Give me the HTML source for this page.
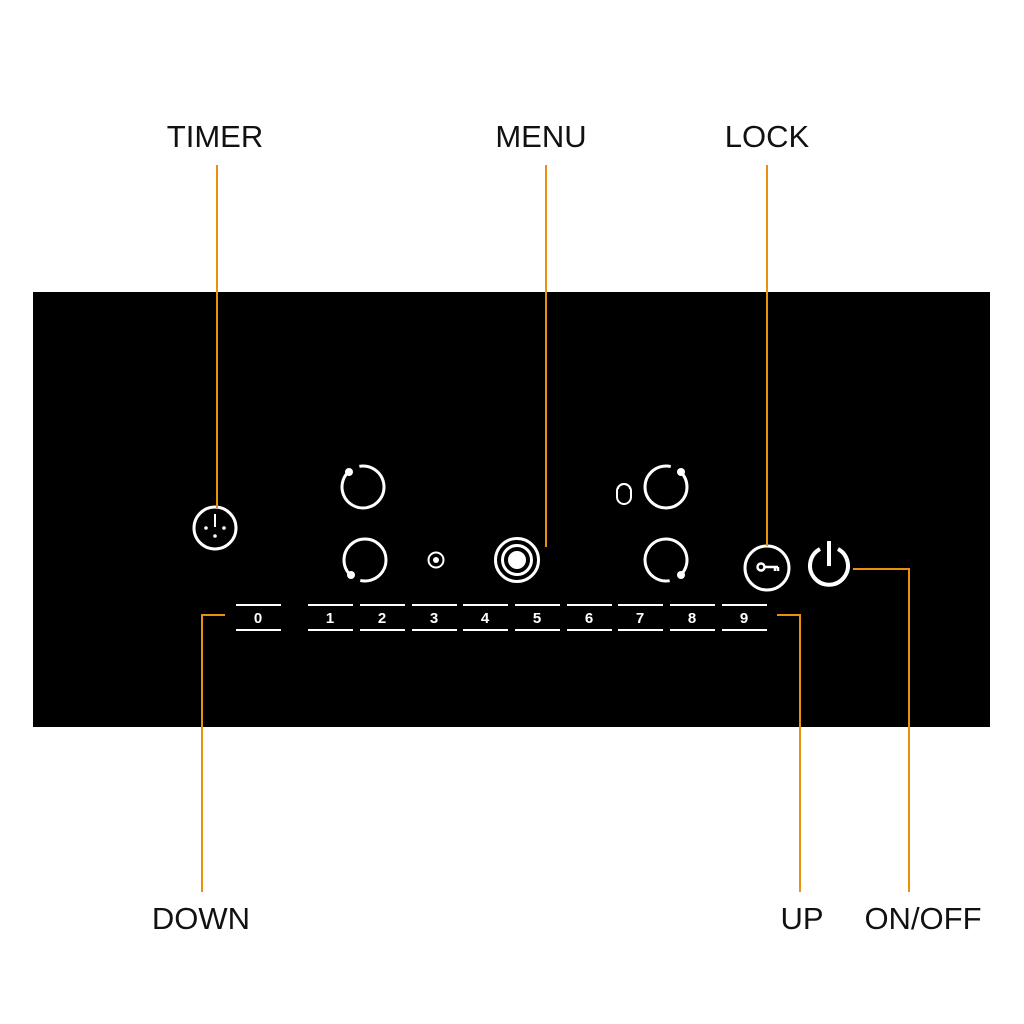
<!DOCTYPE html>
<html><head><meta charset="utf-8"><style>
html,body{margin:0;padding:0;background:#fff;}
svg{display:block;}
text{font-family:"Liberation Sans",sans-serif;}
</style></head><body>
<svg width="1024" height="1024" viewBox="0 0 1024 1024" xmlns="http://www.w3.org/2000/svg">
<rect x="0" y="0" width="1024" height="1024" fill="#fff"/>
<rect x="33" y="292" width="957" height="435" fill="#000"/>
<g fill="none" stroke="#fff" stroke-width="3">
  <circle cx="215" cy="528" r="21"/>
  <circle cx="363" cy="487" r="21" stroke-dasharray="120 12" transform="rotate(-100 363 487)"/>
  <circle cx="365" cy="560" r="21" stroke-dasharray="120 12" transform="rotate(135 365 560)"/>
  <circle cx="666" cy="487" r="21" stroke-dasharray="120 12" transform="rotate(-45 666 487)"/>
  <circle cx="666" cy="560" r="21" stroke-dasharray="120 12" transform="rotate(80 666 560)"/>
  <circle cx="436" cy="560" r="7.5" stroke-width="2"/>
  <circle cx="517" cy="560" r="21.5"/>
  <circle cx="517" cy="560" r="14.5"/>
  <path d="M617 491 a7 7 0 0 1 14 0 v6 a7 7 0 0 1 -14 0 z" stroke-width="2"/>
  <path d="M618 489 a6 5 0 0 1 12 0" stroke-width="2"/>
  <circle cx="767" cy="568" r="22"/>
  <circle cx="761" cy="567" r="3.5" stroke-width="2.5"/>
  <path d="M764 567 H778 M775 567 v4 M778 567 v4" stroke-width="2.5"/>
  <path d="M820 549 A19 19 0 1 0 838 549" stroke-width="4"/>
  <path d="M829 541 V566" stroke-width="4"/>
</g>
<g fill="#fff">
  <circle cx="349" cy="472" r="4"/>
  <circle cx="351" cy="575" r="4"/>
  <circle cx="681" cy="472" r="4"/>
  <circle cx="681" cy="575" r="4"/>
  <circle cx="436" cy="560" r="3"/>
  <circle cx="517" cy="560" r="9"/>
  <rect x="214" y="514" width="2" height="13"/>
  <circle cx="206" cy="528" r="1.8"/>
  <circle cx="224" cy="528" r="1.8"/>
  <circle cx="215" cy="536" r="1.8"/>
</g>
<g stroke="#fff" stroke-width="2">
  <path d="M236 605 h45 M236 630 h45"/>
  <path d="M308 605 h45 M308 630 h45 M360 605 h45 M360 630 h45 M412 605 h45 M412 630 h45 M463 605 h45 M463 630 h45 M515 605 h45 M515 630 h45 M567 605 h45 M567 630 h45 M618 605 h45 M618 630 h45 M670 605 h45 M670 630 h45 M722 605 h45 M722 630 h45"/>
</g>
<g fill="#fff" font-size="15" font-weight="bold" text-anchor="middle">
  <text x="258" y="623">0</text>
  <text x="330" y="623">1</text>
  <text x="382" y="623">2</text>
  <text x="434" y="623">3</text>
  <text x="485" y="623">4</text>
  <text x="537" y="623">5</text>
  <text x="589" y="623">6</text>
  <text x="640" y="623">7</text>
  <text x="692" y="623">8</text>
  <text x="744" y="623">9</text>
</g>
<g fill="none" stroke="#e8900f" stroke-width="2">
  <path d="M217 165 V508"/>
  <path d="M546 165 V547"/>
  <path d="M767 165 V546"/>
  <path d="M225 615 H202 V892"/>
  <path d="M777 615 H800 V892"/>
  <path d="M853 569 H909 V892"/>
</g>
<g fill="#111" font-size="31" text-anchor="middle">
  <text x="215" y="147">TIMER</text>
  <text x="541" y="147">MENU</text>
  <text x="767" y="147">LOCK</text>
  <text x="201" y="929">DOWN</text>
  <text x="802" y="929">UP</text>
  <text x="923" y="929">ON/OFF</text>
</g>
</svg>
</body></html>
